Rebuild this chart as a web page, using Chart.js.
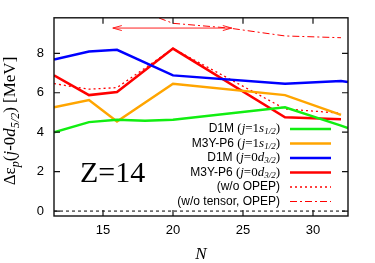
<!DOCTYPE html>
<html><head><meta charset="utf-8">
<script src="https://cdn.jsdelivr.net/npm/chart.js@4.4.0/dist/chart.umd.min.js"></script>
<style>html,body{margin:0;padding:0;background:#fff;}#wrap{width:375px;height:263px;position:relative;}</style>
</head><body><div id="wrap"><canvas id="c"></canvas></div>
<script>
// ---- data ----
const xTickLabels = [15, 20, 25, 30];
const yTickLabels = [0, 2, 4, 6, 8];

const N_d1m_s = [11.5, 14, 16, 18, 20, 28, 32, 32.5];
const d1m_s   = [3.99, 4.51, 4.63, 4.58, 4.63, 5.26, 4.33, 4.21];

const N_m3y_s = [11.5, 14, 16, 20, 28, 32];
const m3y_s   = [5.26, 5.63, 4.54, 6.46, 5.88, 4.88];

const N_d1m_d = [11.5, 14, 16, 20, 28, 32, 32.5];
const d1m_d   = [7.68, 8.09, 8.18, 6.88, 6.46, 6.59, 6.54];

const N_m3y_d = [11.5, 14, 16, 20, 28, 32];
const m3y_d   = [6.88, 5.88, 6.04, 8.24, 4.76, 4.66];

const N_noOPEP = [11.5, 14, 16, 20, 28, 32];
const noOPEP   = [6.46, 6.18, 6.26, 8.24, 5.18, 4.96];

const N_noTensor = [16, 20, 24, 28, 32];
const noTensor   = [10.6, 9.52, 9.28, 8.88, 8.79];

const arrowN = [15.7, 24.2];
const arrowY = 9.28;

const xRange = [11.5, 32.5];
const yRange = [-0.25, 9.8];

const legendRows = [
  {name:'D1M', j:'1', l:'s', color:'#11ee11', type:'solid'},
  {name:'M3Y-P6', j:'1', l:'s', color:'#ffa500', type:'solid'},
  {name:'D1M', j:'0', l:'d', color:'#0000ff', type:'solid'},
  {name:'M3Y-P6', j:'0', l:'d', color:'#ff0000', type:'solid'},
  {text:'(w/o OPEP)', color:'#ff0000', type:'dot'},
  {text:'(w/o tensor, OPEP)', color:'#ff0000', type:'dashdot'}
];
const sub12 = '1/2', sub32 = '3/2';

// ---- helpers ----
const pts = (xs, ys) => xs.map((x, i) => ({x: x, y: ys[i]}));
const SERIF = '"Liberation Serif", "DejaVu Serif", serif';
const SANS = '"Liberation Sans", Arial, sans-serif';

function runsWidth(ctx, runs){
  let w = 0;
  for (const r of runs){ ctx.font = r.font; w += ctx.measureText(r.t).width; }
  return w;
}
function drawRuns(ctx, runs, x, y){
  for (const r of runs){
    ctx.font = r.font;
    ctx.fillText(r.t, x, y + (r.dy || 0));
    x += ctx.measureText(r.t).width;
  }
}

const decor = {
  id: 'decor',
  afterDatasetsDraw(chart){
    const ctx = chart.ctx, a = chart.chartArea;
    const xs = chart.scales.x, ys = chart.scales.y;
    ctx.save();
    // arrow
    const ax1 = xs.getPixelForValue(arrowN[0]), ax2 = xs.getPixelForValue(arrowN[1]);
    const ay = ys.getPixelForValue(arrowY);
    ctx.strokeStyle = '#ff2020'; ctx.lineWidth = 1;
    ctx.beginPath();
    ctx.moveTo(ax1, ay); ctx.lineTo(ax2, ay);
    ctx.moveTo(ax1 + 9, ay - 2.5); ctx.lineTo(ax1, ay); ctx.lineTo(ax1 + 9, ay + 2.5);
    ctx.moveTo(ax2 - 9, ay - 2.5); ctx.lineTo(ax2, ay); ctx.lineTo(ax2 - 9, ay + 2.5);
    ctx.stroke();

    // legend
    const rowY0 = 129, rowDy = 14.5, textRight = 280, lx1 = 290, lx2 = 331;
    ctx.fillStyle = '#000'; ctx.textBaseline = 'middle'; ctx.textAlign = 'left';
    legendRows.forEach((r, i) => {
      const y = rowY0 + i * rowDy;
      let runs;
      if (r.text){
        runs = [{t: r.text, font: '12px ' + SANS}];
      } else {
        runs = [
          {t: r.name + ' ', font: '12px ' + SANS},
          {t: '(', font: '13px ' + SERIF},
          {t: 'j', font: 'italic 13px ' + SERIF},
          {t: '=' + r.j, font: '13px ' + SERIF},
          {t: r.l, font: 'italic 13px ' + SERIF},
          {t: r.l === 's' ? sub12 : sub32, font: 'italic 9px ' + SERIF, dy: 3},
          {t: ')', font: '13px ' + SERIF}
        ];
      }
      const w = runsWidth(ctx, runs);
      ctx.fillStyle = '#000';
      drawRuns(ctx, runs, textRight - w, y);
      ctx.strokeStyle = r.color;
      if (r.type === 'solid'){ ctx.lineWidth = 2.5; ctx.setLineDash([]); }
      else if (r.type === 'dot'){ ctx.lineWidth = 1.3; ctx.setLineDash([2, 3]); }
      else { ctx.lineWidth = 1; ctx.setLineDash([7, 3, 2, 3]); }
      ctx.beginPath(); ctx.moveTo(lx1, y); ctx.lineTo(lx2, y); ctx.stroke();
      ctx.setLineDash([]);
    });

    // Z=14
    ctx.fillStyle = '#000'; ctx.textBaseline = 'alphabetic';
    ctx.font = '30px ' + SERIF;
    ctx.fillText('Z=14', 80, 182);

    // frame
    ctx.strokeStyle = '#111'; ctx.lineWidth = 1.4;
    ctx.strokeRect(a.left, a.top, a.right - a.left, a.bottom - a.top);
    // inward ticks on all four sides
    ctx.lineWidth = 1.2;
    ctx.beginPath();
    xTickLabels.forEach(v => {
      const px = xs.getPixelForValue(v);
      ctx.moveTo(px, a.bottom); ctx.lineTo(px, a.bottom - 6);
      ctx.moveTo(px, a.top); ctx.lineTo(px, a.top + 6);
    });
    yTickLabels.forEach(v => {
      const py = ys.getPixelForValue(v);
      ctx.moveTo(a.left, py); ctx.lineTo(a.left + 6, py);
      ctx.moveTo(a.right, py); ctx.lineTo(a.right - 6, py);
    });
    ctx.stroke();

    // y-axis title (rotated)
    ctx.save();
    ctx.translate(15, 121);
    ctx.rotate(-Math.PI / 2);
    const tr = [
      {t: 'Δε', font: '17px ' + SERIF},
      {t: 'p', font: 'italic 12px ' + SERIF, dy: 4},
      {t: '(', font: '17px ' + SERIF},
      {t: 'j', font: 'italic 17px ' + SERIF},
      {t: '-0', font: '17px ' + SERIF},
      {t: 'd', font: 'italic 17px ' + SERIF},
      {t: '5/2', font: 'italic 12px ' + SERIF, dy: 4},
      {t: ') [MeV]', font: '17px ' + SERIF}
    ];
    ctx.fillStyle = '#000'; ctx.textBaseline = 'alphabetic';
    drawRuns(ctx, tr, -runsWidth(ctx, tr) / 2, 0);
    ctx.restore();

    // x-axis title
    ctx.font = 'italic 17px ' + SERIF;
    ctx.textAlign = 'center'; ctx.textBaseline = 'alphabetic';
    ctx.fillText('N', (a.left + a.right) / 2, 259);
    ctx.restore();
  }
};

const line = (data, color, extra) => Object.assign({
  data: data, borderColor: color, backgroundColor: color, borderWidth: 2.5,
  pointRadius: 0, fill: false, tension: 0
}, extra || {});

new Chart(document.getElementById('c'), {
  type: 'line',
  data: {
    datasets: [
      line(pts(xRange, [0, 0]), '#000', {borderWidth: 1, borderDash: [3, 3]}),
      line(pts(N_noTensor, noTensor), '#ff0000', {borderWidth: 1, borderDash: [7, 3, 2, 3]}),
      line(pts(N_d1m_s, d1m_s), '#11ee11'),
      line(pts(N_m3y_s, m3y_s), '#ffa500'),
      line(pts(N_d1m_d, d1m_d), '#0000ff'),
      line(pts(N_noOPEP, noOPEP), '#ff0000', {borderWidth: 1.3, borderDash: [2, 3]}),
      line(pts(N_m3y_d, m3y_d), '#ff0000')
    ]
  },
  options: {
    responsive: true, maintainAspectRatio: false, animation: false,
    layout: {padding: {top: 17, right: 27, left: 0, bottom: 0}},
    plugins: {legend: {display: false}, tooltip: {enabled: false}},
    scales: {
      x: {
        type: 'linear', min: xRange[0], max: xRange[1],
        afterBuildTicks: s => { s.ticks = xTickLabels.map(v => ({value: v})); },
        afterFit: s => { s.height = 47; },
        grid: {display: false, drawTicks: false}, border: {display: false},
        ticks: {padding: 7, color: '#000', font: {family: SANS, size: 13}, maxRotation: 0}
      },
      y: {
        type: 'linear', min: yRange[0], max: yRange[1],
        afterBuildTicks: s => { s.ticks = yTickLabels.map(v => ({value: v})); },
        afterFit: s => { s.width = 54; },
        grid: {display: false, drawTicks: false}, border: {display: false},
        ticks: {padding: 10, color: '#000', font: {family: SANS, size: 13}}
      }
    }
  },
  plugins: [decor]
});
</script></body></html>
